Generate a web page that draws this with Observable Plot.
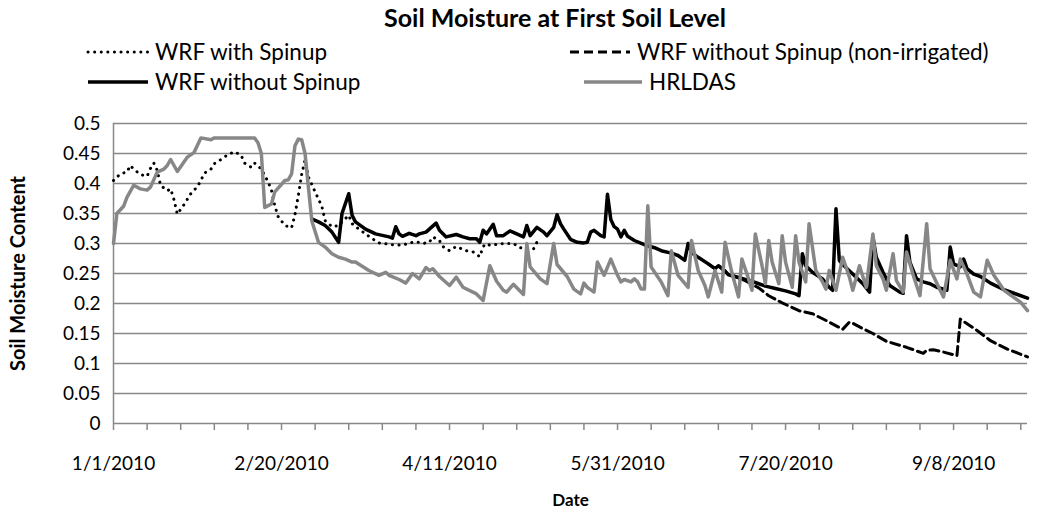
<!DOCTYPE html>
<html><head><meta charset="utf-8">
<script src="https://cdn.jsdelivr.net/npm/d3@7"></script>
<script src="https://cdn.jsdelivr.net/npm/@observablehq/plot@0.6"></script>
<style>
body{margin:0;background:#fff;font-family:Lato,"Open Sans",sans-serif;color:#000}
#wrap{position:relative;width:1048px;height:512px;overflow:hidden;background:#fff}
#title{position:absolute;top:2px;left:250px;width:610px;text-align:center;font-weight:bold;font-size:25px;line-height:30px;white-space:nowrap}
.leg{position:absolute;display:flex;align-items:center;font-size:22.5px;line-height:26px;white-space:nowrap;transform:translateY(-50%)}
.leg svg{margin-right:5px}
#chart{position:absolute;top:95px;left:0}
</style></head>
<body><div id="wrap"><div id="title"></div><div id="legend"></div><div id="chart"></div></div>
<script>
const chartTitle = "Soil Moisture at First Soil Level";
const seriesNames = ["WRF with Spinup","WRF without Spinup (non-irrigated)","WRF without Spinup","HRLDAS"];
const xTickLabels = ["1/1/2010","2/20/2010","4/11/2010","5/31/2010","7/20/2010","9/8/2010"];
const yTickValues = [0,0.05,0.1,0.15,0.2,0.25,0.3,0.35,0.4,0.45,0.5];
const xTitle = "Date";
const yTitle = "Soil Moisture Content";

// days since 1/1/2010 and soil moisture values
const spinDays = [0,2,4,5,6,8,10,11,12,13,14,16,17,18,19,21,23,25,26,27,29,30,32,34,36,38,39,41,42,44,46,47,48,49,51,53,54,55,56,57,58,60,61,62,63,65,67,68,70,71,73,75,77,79,83,86,88,90,92,94,95,97,98,100,102,105,107,109,110,111,112,116,119,121,123,125,126,127];
const spinVals = [0.405,0.416,0.419,0.430,0.424,0.415,0.412,0.425,0.434,0.422,0.397,0.388,0.391,0.373,0.349,0.365,0.383,0.395,0.405,0.417,0.424,0.433,0.440,0.448,0.453,0.447,0.434,0.427,0.434,0.424,0.403,0.389,0.363,0.345,0.330,0.326,0.348,0.380,0.415,0.439,0.411,0.386,0.374,0.362,0.338,0.328,0.330,0.336,0.347,0.333,0.324,0.316,0.308,0.301,0.298,0.297,0.301,0.303,0.300,0.302,0.311,0.305,0.295,0.288,0.295,0.288,0.286,0.278,0.295,0.300,0.297,0.300,0.300,0.293,0.291,0.291,0.302,0.295];

const nonIrrDays = [177,179,180,182,183,185,188,192,195,199,204,208,213,217,219,220,223,226,230,236,241,242,244,247,251,252,253,257,261,266,272];
const nonIrrVals = [0.266,0.258,0.263,0.254,0.248,0.245,0.238,0.226,0.213,0.201,0.188,0.183,0.169,0.157,0.169,0.167,0.158,0.150,0.137,0.127,0.117,0.122,0.123,0.119,0.113,0.174,0.170,0.155,0.138,0.124,0.111];

const noSpinDays = [59,61,63,65,67,68,70,71,72,75,78,82,83,84,85,86,88,90,91,93,94,96,97,99,102,104,106,108,109,110,111,113,114,116,118,120,122,123,124,126,128,129,131,132,133,134,136,138,140,141,142,143,145,146,147,148,149,150,151,152,153,155,158,161,163,166,168,170,171,172,174,177,179,180,182,183,185,188,191,194,197,200,203,204,205,206,208,211,213,214,215,216,217,220,223,225,226,227,229,231,234,235,236,237,239,241,243,245,248,249,250,252,253,254,256,258,261,265,269,272];
const noSpinVals = [0.341,0.336,0.330,0.319,0.302,0.350,0.383,0.347,0.336,0.324,0.316,0.311,0.309,0.328,0.316,0.312,0.317,0.313,0.316,0.319,0.324,0.334,0.322,0.311,0.315,0.311,0.308,0.308,0.302,0.322,0.316,0.332,0.313,0.313,0.321,0.316,0.311,0.330,0.313,0.327,0.319,0.313,0.327,0.348,0.333,0.324,0.307,0.302,0.301,0.302,0.319,0.322,0.313,0.311,0.382,0.340,0.328,0.324,0.311,0.322,0.312,0.305,0.298,0.293,0.288,0.284,0.280,0.272,0.300,0.285,0.277,0.266,0.258,0.263,0.254,0.248,0.245,0.240,0.235,0.229,0.225,0.221,0.216,0.213,0.283,0.263,0.252,0.241,0.227,0.222,0.358,0.272,0.265,0.249,0.233,0.219,0.311,0.277,0.252,0.230,0.219,0.217,0.313,0.269,0.241,0.236,0.233,0.227,0.222,0.294,0.266,0.261,0.274,0.258,0.249,0.245,0.234,0.223,0.215,0.209];

const hrDays = [0,1,3,4,6,8,10,11,13,15,16,17,19,22,24,26,29,30,42,43,44,45,47,48,51,52,53,54,55,56,57,58,59,61,63,65,67,69,71,72,76,79,81,82,85,87,89,91,93,94,95,97,100,102,104,108,110,112,114,116,117,119,122,123,124,127,129,131,132,135,137,139,140,141,143,144,146,148,150,151,152,154,155,156,157,158,159,160,163,165,166,168,171,172,174,176,177,179,181,182,184,186,187,189,190,191,193,194,195,196,198,199,200,202,203,204,206,207,209,211,212,213,215,217,219,220,222,224,226,227,229,230,232,233,235,236,238,240,242,243,246,247,249,251,252,254,256,258,260,262,265,270,272];
const hrVals = [0.300,0.350,0.362,0.377,0.397,0.391,0.389,0.394,0.419,0.424,0.430,0.440,0.420,0.444,0.452,0.476,0.473,0.476,0.476,0.468,0.450,0.360,0.366,0.386,0.405,0.406,0.416,0.463,0.474,0.473,0.450,0.394,0.338,0.302,0.294,0.283,0.277,0.274,0.269,0.269,0.255,0.247,0.252,0.247,0.240,0.234,0.250,0.241,0.260,0.255,0.258,0.245,0.230,0.244,0.227,0.216,0.205,0.263,0.237,0.222,0.219,0.232,0.215,0.300,0.261,0.241,0.233,0.300,0.265,0.245,0.224,0.216,0.234,0.227,0.219,0.269,0.247,0.274,0.247,0.236,0.240,0.236,0.241,0.236,0.224,0.224,0.363,0.261,0.236,0.213,0.288,0.247,0.227,0.305,0.255,0.230,0.211,0.255,0.219,0.302,0.252,0.211,0.274,0.241,0.222,0.316,0.263,0.233,0.305,0.269,0.233,0.313,0.269,0.227,0.313,0.269,0.236,0.333,0.255,0.236,0.224,0.255,0.222,0.277,0.244,0.222,0.263,0.227,0.316,0.263,0.241,0.222,0.283,0.238,0.219,0.286,0.247,0.213,0.333,0.258,0.222,0.211,0.272,0.241,0.274,0.249,0.219,0.211,0.272,0.247,0.222,0.202,0.188];

const start = new Date(Date.UTC(2010,0,1));
const toDate = d => d3.utcDay.offset(start, d);
const build = (name, days, vals) => days.map((d,i) => ({series:name, date:toDate(d), value:vals[i]}));
const spin = build(seriesNames[0], spinDays, spinVals);
const nonIrr = build(seriesNames[1], nonIrrDays, nonIrrVals);
const noSpin = build(seriesNames[2], noSpinDays, noSpinVals);
const hr = build(seriesNames[3], hrDays, hrVals);

const styles = [
  {stroke:"#000", strokeWidth:3, strokeDasharray:"0.1,6.5", strokeLinecap:"round"},
  {stroke:"#000", strokeWidth:3, strokeDasharray:"9,5"},
  {stroke:"#000", strokeWidth:3.5},
  {stroke:"#878787", strokeWidth:3.5}
];

const majorTicks = xTickLabels.map(s => {const [m,d,y] = s.split("/").map(Number); return new Date(Date.UTC(y,m-1,d));});
const minorTicks = d3.range(0, 273, 10).map(toDate);
const fmt = d => `${d.getUTCMonth()+1}/${d.getUTCDate()}/${d.getUTCFullYear()}`;
const gridColor = "#888888";

document.getElementById("title").textContent = chartTitle;

// legend
const legPos = [
  {left:86, top:52, w:64},
  {left:568, top:52, w:64},
  {left:86, top:82, w:64},
  {left:582, top:82, w:62}
];
const legend = document.getElementById("legend");
seriesNames.forEach((name,i) => {
  const p = legPos[i], s = styles[i];
  const div = document.createElement("div");
  div.className = "leg";
  div.style.left = p.left + "px";
  div.style.top = p.top + "px";
  div.innerHTML = `<svg width="${p.w}" height="10"><line x1="2" x2="${p.w-2}" y1="5" y2="5" stroke="${s.stroke}" stroke-width="${s.strokeWidth}" ${s.strokeDasharray?`stroke-dasharray="${s.strokeDasharray}"`:""} ${s.strokeLinecap?`stroke-linecap="${s.strokeLinecap}"`:""}/></svg><span>${name}</span>`;
  legend.appendChild(div);
});

const lineMark = (data, s) => Plot.line(data, {x:"date", y:"value", ...s});

const chart = Plot.plot({
  width:1048, height:417,
  marginLeft:113, marginRight:21, marginTop:28, marginBottom:89,
  style:{fontFamily:"Lato, 'Open Sans', sans-serif", fontSize:"19px", color:"#000", background:"#fff"},
  x:{type:"utc", domain:[start, toDate(272)]},
  y:{domain:[0,0.5]},
  marks:[
    Plot.gridY(yTickValues, {stroke:gridColor, strokeOpacity:1, strokeWidth:1.5}),
    Plot.ruleX([start], {stroke:gridColor, strokeWidth:1.5}),
    Plot.axisX(minorTicks, {tickSize:7, tickFormat:() => "", stroke:gridColor, strokeWidth:1.5, label:null}),
    Plot.axisX(majorTicks, {tickSize:0, tickPadding:33, tickFormat:fmt, fontSize:19, label:null}),
    Plot.axisY(yTickValues, {tickSize:0, tickPadding:13, tickFormat:d => String(+d.toFixed(2)), fontSize:19, label:null}),
    Plot.text([yTitle], {frameAnchor:"left", dx:-95, rotate:-90, textAnchor:"middle", lineAnchor:"middle", fontWeight:"bold", fontSize:20}),
    Plot.text([xTitle], {frameAnchor:"bottom", dy:77, textAnchor:"middle", lineAnchor:"middle", fontWeight:"bold", fontSize:17}),
    lineMark(spin, styles[0]),
    lineMark(nonIrr, styles[1]),
    lineMark(noSpin, styles[2]),
    lineMark(hr, styles[3])
  ]
});
document.getElementById("chart").appendChild(chart);
</script></body></html>
